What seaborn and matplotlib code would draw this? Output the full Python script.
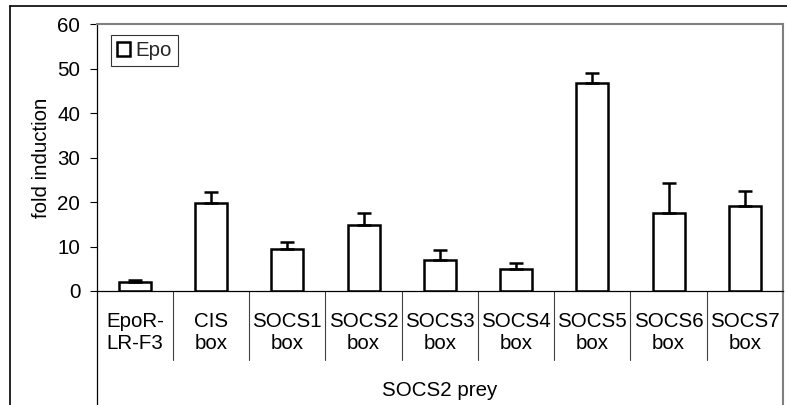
import matplotlib
matplotlib.use("Agg")
import matplotlib.pyplot as plt
from matplotlib.lines import Line2D
from matplotlib.transforms import blended_transform_factory
import numpy as np
import pandas as pd
import seaborn as sns

# Data
prey_labels = ["EpoR-\nLR-F3", "CIS\nbox", "SOCS1\nbox", "SOCS2\nbox", "SOCS3\nbox",
               "SOCS4\nbox", "SOCS5\nbox", "SOCS6\nbox", "SOCS7\nbox"]
fold_induction = [2.1, 19.7, 9.4, 14.8, 7.0, 4.9, 46.8, 17.6, 19.1]
fold_error = [0.3, 2.5, 1.7, 2.7, 2.2, 1.4, 2.3, 6.6, 3.4]
stimulus = ["Epo"] * len(prey_labels)
group_label = "SOCS2 prey"
y_ticks = [0, 10, 20, 30, 40, 50, 60]

df = pd.DataFrame({"prey": prey_labels, "fold": fold_induction, "stim": stimulus})

FS = 14.8
sns.set_theme(style="white")
plt.rcParams["font.family"] = ["Liberation Sans", "DejaVu Sans"]
plt.rcParams["font.size"] = FS

W, H = 787, 405
fig = plt.figure(figsize=(W / 100, H / 100), dpi=100)
left_px, right_px, top_px, bot_px = 96.7, 783, 24, 291
ax = fig.add_axes([left_px / W, 1 - bot_px / H, (right_px - left_px) / W, (bot_px - top_px) / H])

sns.barplot(data=df, x="prey", y="fold", hue="stim", palette=["white"],
            edgecolor="black", linewidth=1.8, width=0.42, errorbar=None,
            dodge=False, ax=ax)

x = np.arange(len(prey_labels))
ax.errorbar(x, fold_induction, yerr=[np.zeros(len(x)), fold_error], fmt="none",
            ecolor="black", elinewidth=1.8, capsize=5, capthick=1.8, zorder=1)

ax.set_xlim(-0.5, len(prey_labels) - 0.5)
ax.set_ylim(0, 60)
ax.set_yticks(y_ticks)
ax.tick_params(axis="y", which="both", left=True, length=4.8, width=0.8,
               color="black", pad=7, labelsize=FS, labelcolor="black")
ax.set_xticks(x)
ax.set_xticklabels(prey_labels, linespacing=1.22)
ax.tick_params(axis="x", length=0, pad=15, labelsize=FS, labelcolor="black")
ax.set_xlabel("")
ax.set_ylabel("fold induction", fontsize=FS, color="black")
ax.yaxis.set_label_coords(-0.067, 0.5)

for side in ["left", "bottom"]:
    ax.spines[side].set_color("black")
    ax.spines[side].set_linewidth(0.9)
for side in ["top", "right"]:
    ax.spines[side].set_color("#808080")
    ax.spines[side].set_linewidth(1.5)

# Category dividers of the two-level axis
trans = blended_transform_factory(ax.transData, ax.transAxes)
inner_drop = (bot_px - 360) / (bot_px - top_px)
outer_drop = (bot_px - 405) / (bot_px - top_px)
for b in np.arange(0.5, len(prey_labels) - 1, 1.0):
    ax.add_line(Line2D([b, b], [0, inner_drop], transform=trans, color="#404040",
                       lw=0.8, clip_on=False))
ax.add_line(Line2D([-0.5, -0.5], [0, outer_drop], transform=trans, color="black",
                   lw=0.9, clip_on=False))
ax.add_line(Line2D([len(prey_labels) - 0.5] * 2, [0, outer_drop], transform=trans,
                   color="#808080", lw=1.5, clip_on=False))

ax.text(0.5, (bot_px - 395.7) / (bot_px - top_px), group_label, transform=ax.transAxes,
        ha="center", va="baseline", fontsize=FS, color="black")

handles, labels = ax.get_legend_handles_labels()
leg = ax.legend(handles, labels, loc="upper left",
                bbox_to_anchor=((110.7 - left_px) / (right_px - left_px), (bot_px - 35) / (bot_px - top_px)),
                borderaxespad=0, frameon=True, fancybox=False, handlelength=0.65,
                handleheight=0.65, handletextpad=0.25, borderpad=0.3, fontsize=FS)
leg.get_frame().set_edgecolor("black")
leg.get_frame().set_linewidth(0.8)

# Outer chart frame
fig.add_artist(Line2D([10 / W, 1], [1 - 6 / H, 1 - 6 / H], transform=fig.transFigure,
                      color="black", lw=1.2))
fig.add_artist(Line2D([10 / W, 10 / W], [1 - 6 / H, 0], transform=fig.transFigure,
                      color="black", lw=1.2))

fig.savefig("out.png", dpi=100, facecolor="white")
